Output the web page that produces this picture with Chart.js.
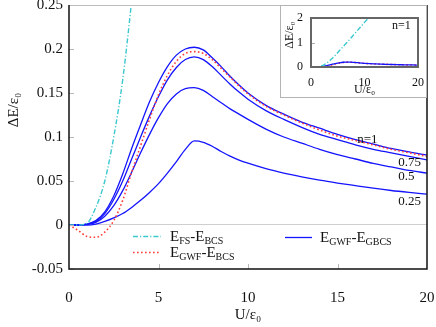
<!DOCTYPE html>
<html>
<head>
<meta charset="utf-8">
<script src="https://cdn.jsdelivr.net/npm/chart.js@4/dist/chart.umd.min.js"></script>
<style>
  html, body { margin: 0; padding: 0; background: #fff; }
  #wrap { position: relative; width: 436px; height: 327px; }
  #main { position: absolute; left: 0; top: 0; }
  #insetBox { position: absolute; left: 280px; top: 5px; width: 145px; height: 91px;
              border: 1px solid #b4b4b4; background: #fff; }
  #inset { display: block; }
</style>
</head>
<body>
<div id="wrap">
  <canvas id="main" width="436" height="327"></canvas>
  <div id="insetBox"><canvas id="inset" width="145" height="91"></canvas></div>
</div>
<script>
// U/eps0 grid used by every curve
const uVals = [0, 0.5, 1, 1.5, 2, 2.5, 3, 3.5, 4, 4.5, 5, 5.5, 6, 6.5, 7, 7.5, 8, 8.5, 9, 9.5, 10,
               11, 12, 13, 14, 15, 16, 17, 18, 19, 20];

// E_GWF - E_GBCS for n = 1, 0.75, 0.5, 0.25
const gbcsN1   = [0, 0, 0.001, 0.005, 0.015, 0.033, 0.058, 0.087, 0.114, 0.14, 0.162, 0.18, 0.193, 0.2, 0.202, 0.199, 0.19, 0.18, 0.169, 0.159, 0.15,
                  0.136, 0.126, 0.117, 0.11, 0.103, 0.097, 0.092, 0.087, 0.083, 0.0795];
const gbcsN075 = [0, 0, 0.001, 0.004, 0.013, 0.029, 0.05, 0.075, 0.1, 0.124, 0.146, 0.165, 0.179, 0.188, 0.191, 0.188, 0.18, 0.17, 0.16, 0.151, 0.143,
                  0.13, 0.12, 0.111, 0.103, 0.097, 0.091, 0.086, 0.082, 0.078, 0.074];
const gbcsN05  = [0, 0, 0.001, 0.003, 0.01, 0.022, 0.039, 0.06, 0.082, 0.103, 0.122, 0.138, 0.149, 0.155, 0.156, 0.153, 0.146, 0.139, 0.132, 0.126, 0.12,
                  0.109, 0.1, 0.093, 0.086, 0.08, 0.075, 0.07, 0.066, 0.062, 0.059];
const gbcsN025 = [0, 0, 0, 0.001, 0.004, 0.008, 0.013, 0.02, 0.028, 0.037, 0.047, 0.059, 0.072, 0.086, 0.0955, 0.094, 0.0895, 0.0835, 0.0782, 0.0738, 0.0702,
                  0.064, 0.059, 0.0548, 0.051, 0.0477, 0.0447, 0.0418, 0.0392, 0.037, 0.035];
// E_GWF - E_BCS
const gwfBcs   = [0, -0.006, -0.013, -0.014, -0.008, 0.005, 0.028, 0.06, 0.09, 0.12, 0.148, 0.17, 0.186, 0.195, 0.197, 0.195, 0.188, 0.178, 0.168, 0.158, 0.149,
                  0.135, 0.125, 0.116, 0.108, 0.101, 0.096, 0.091, 0.086, 0.082, 0.078];
// E_FS - E_BCS (only drawn up to where it leaves the inset)
const fsBcs    = [0, 0, 0.002, 0.02, 0.05, 0.1, 0.165, 0.255, 0.36, 0.47, 0.59, 0.71, 0.83, 0.95, 1.07, 1.195, 1.32, 1.445, 1.57, 1.695, 1.82,
                  2.07, 2.32, null, null, null, null, null, null, null, null];

const mainYTicks = [-0.05, 0, 0.05, 0.1, 0.15, 0.2, 0.25];
const curveLabels = [
  { text: 'n=1',  u: 16.1, v: 0.097 },
  { text: '0.75', u: 18.4, v: 0.0705 },
  { text: '0.5',  u: 18.4, v: 0.0545 },
  { text: '0.25', u: 18.4, v: 0.027 }
];

const BLUE = '#1414ff', RED = '#ff3b3b', CYAN = '#3cc8cf';
const SERIF = '"Liberation Serif", "DejaVu Serif", serif';

const pts = arr => uVals.map((u, i) => ({ x: u, y: arr[i] }));

function blueSet(arr) {
  return { data: pts(arr), borderColor: BLUE, borderWidth: 1.3, cubicInterpolationMode: 'monotone' };
}
const redSet  = () => ({ data: pts(gwfBcs), borderColor: RED, borderWidth: 1.6, borderDash: [1.6, 2.4], cubicInterpolationMode: 'monotone' });
const cyanSet = () => ({ data: pts(fsBcs), borderColor: CYAN, borderWidth: 1.4, borderDash: [5, 2, 1.2, 2], cubicInterpolationMode: 'monotone' });

// keep the plot box exactly where the axis boxes say, without label overflow padding
const noPad = s => { s.paddingLeft = 0; s.paddingRight = 0; s.paddingTop = 0; s.paddingBottom = 0; };

// draws a label like E_FS-E_BCS with smaller lowered parts
function drawSubText(ctx, x, y, parts, big, small) {
  parts.forEach(([txt, sub]) => {
    ctx.font = (sub ? small : big) + 'px ' + SERIF;
    ctx.fillText(txt, x, sub ? y + 3 : y);
    x += ctx.measureText(txt).width;
  });
}

const mainDeco = {
  id: 'mainDeco',
  afterDraw(chart) {
    const { ctx, chartArea: a, scales: { x, y } } = chart;
    ctx.save();
    // small inside ticks
    ctx.strokeStyle = '#b8b8b8';
    ctx.lineWidth = 1;
    ctx.beginPath();
    [5, 10, 15].forEach(v => {
      const px = Math.round(x.getPixelForValue(v)) + 0.5;
      ctx.moveTo(px, a.bottom); ctx.lineTo(px, a.bottom - 5);
    });
    mainYTicks.forEach(v => {
      const py = Math.round(y.getPixelForValue(v)) + 0.5;
      ctx.moveTo(a.left, py); ctx.lineTo(a.left + 5, py);
    });
    ctx.stroke();
    // frame
    ctx.strokeStyle = '#bdbdbd';
    ctx.beginPath(); ctx.moveTo(a.left, a.top + 0.5); ctx.lineTo(a.right, a.top + 0.5); ctx.stroke();
    ctx.strokeStyle = '#111';
    ctx.lineWidth = 1.5;
    ctx.beginPath();
    ctx.moveTo(a.left, a.top); ctx.lineTo(a.left, a.bottom); ctx.lineTo(a.right, a.bottom); ctx.lineTo(a.right, a.top);
    ctx.stroke();

    // y title
    ctx.fillStyle = '#111';
    ctx.save();
    ctx.translate(14, 110);
    ctx.rotate(-Math.PI / 2);
    ctx.textAlign = 'center';
    ctx.textBaseline = 'middle';
    ctx.font = '15px ' + SERIF;
    ctx.fillText('\u0394E/\u03b5\u2080', 0, 0);
    ctx.restore();

    // curve labels
    ctx.font = '13px ' + SERIF;
    ctx.textBaseline = 'middle';
    curveLabels.forEach(l => ctx.fillText(l.text, x.getPixelForValue(l.u), y.getPixelForValue(l.v)));

    // legend
    ctx.lineWidth = 1.4;
    ctx.strokeStyle = CYAN; ctx.setLineDash([5, 2, 1.2, 2]);
    ctx.beginPath(); ctx.moveTo(133, 236.5); ctx.lineTo(161, 236.5); ctx.stroke();
    ctx.strokeStyle = RED; ctx.lineWidth = 1.6; ctx.setLineDash([1.6, 2.4]);
    ctx.beginPath(); ctx.moveTo(133, 252.5); ctx.lineTo(161, 252.5); ctx.stroke();
    ctx.strokeStyle = BLUE; ctx.lineWidth = 1.3; ctx.setLineDash([]);
    ctx.beginPath(); ctx.moveTo(285, 237.5); ctx.lineTo(312, 237.5); ctx.stroke();
    ctx.textBaseline = 'alphabetic';
    drawSubText(ctx, 170, 241, [['E'], ['FS', 1], ['-E'], ['BCS', 1]], 15, 10);
    drawSubText(ctx, 170, 257, [['E'], ['GWF', 1], ['-E'], ['BCS', 1]], 15, 10);
    drawSubText(ctx, 320, 242, [['E'], ['GWF', 1], ['-E'], ['GBCS', 1]], 15, 10);
    ctx.restore();
  }
};

new Chart(document.getElementById('main'), {
  type: 'line',
  data: {
    datasets: [cyanSet(), redSet(), blueSet(gbcsN1), blueSet(gbcsN075), blueSet(gbcsN05), blueSet(gbcsN025)]
  },
  options: {
    responsive: false,
    animation: false,
    layout: { padding: { top: 5, right: 9, left: 0, bottom: 0 } },
    elements: { point: { radius: 0 } },
    plugins: { legend: { display: false }, tooltip: { enabled: false } },
    scales: {
      x: {
        type: 'linear', min: 0, max: 20,
        grid: { display: false },
        border: { display: false },
        ticks: { stepSize: 5, color: '#111', padding: 12, font: { family: SERIF, size: 15 } },
        title: { display: true, text: 'U/\u03b5\u2080', color: '#111', padding: { top: 0, bottom: 3 }, font: { family: SERIF, size: 15 } },
        afterFit: s => { s.height = 58; noPad(s); }
      },
      y: {
        min: -0.05, max: 0.25,
        afterBuildTicks: s => { s.ticks = mainYTicks.map(v => ({ value: v })); },
        grid: { drawTicks: false, color: c => (c.tick && c.tick.value === 0 ? '#cfcfcf' : 'transparent') },
        border: { display: false },
        ticks: { color: '#111', padding: 6, font: { family: SERIF, size: 15 }, callback: v => String(+v.toFixed(2)) },
        afterFit: s => { s.width = 69; noPad(s); }
      }
    }
  },
  plugins: [mainDeco]
});

// inset: same quantities on a wider energy range
const insetDeco = {
  id: 'insetDeco',
  afterDraw(chart) {
    const { ctx, chartArea: a, scales: { y } } = chart;
    ctx.save();
    ctx.strokeStyle = '#aaa';
    ctx.lineWidth = 1;
    ctx.beginPath();
    const py = Math.round(y.getPixelForValue(1)) + 0.5;
    ctx.moveTo(a.left, py); ctx.lineTo(a.left + 4, py);
    ctx.stroke();
    ctx.strokeStyle = '#666';
    ctx.lineWidth = 2;
    ctx.strokeRect(a.left, a.top, a.right - a.left, a.bottom - a.top);
    ctx.fillStyle = '#111';
    ctx.font = '12px ' + SERIF;
    ctx.textBaseline = 'middle';
    ctx.fillText('n=1', 111, 20);
    ctx.translate(9, 29);
    ctx.rotate(-Math.PI / 2);
    ctx.textAlign = 'center';
    ctx.fillText('\u0394E/\u03b5\u2080', 0, 0);
    ctx.restore();
  }
};

new Chart(document.getElementById('inset'), {
  type: 'line',
  data: {
    datasets: [cyanSet(), blueSet(gbcsN1), redSet()]
  },
  options: {
    responsive: false,
    animation: false,
    layout: { padding: { top: 12, right: 8, left: 0, bottom: 0 } },
    elements: { point: { radius: 0 } },
    plugins: { legend: { display: false }, tooltip: { enabled: false } },
    scales: {
      x: {
        type: 'linear', min: 0, max: 20,
        grid: { display: false },
        border: { display: false },
        ticks: { stepSize: 10, color: '#111', padding: 1, font: { family: SERIF, size: 12 } },
        title: { display: true, text: 'U/\u03b5\u2080', color: '#111', padding: { top: 0, bottom: 0 }, font: { family: SERIF, size: 12 } },
        afterFit: s => { s.height = 30; noPad(s); }
      },
      y: {
        min: 0, max: 2,
        grid: { display: false },
        border: { display: false },
        ticks: { stepSize: 1, color: '#111', padding: 0, font: { family: SERIF, size: 12 } },
        afterFit: s => { s.width = 30; noPad(s); }
      }
    }
  },
  plugins: [insetDeco]
});
</script>
</body>
</html>
